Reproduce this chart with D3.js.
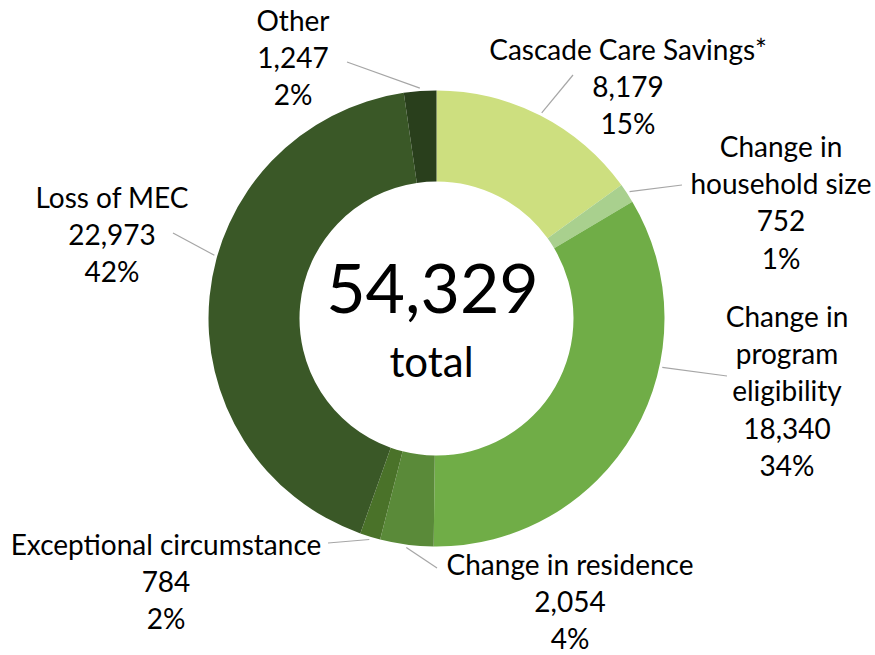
<!DOCTYPE html>
<html>
<head>
<meta charset="utf-8">
<script src="https://cdn.jsdelivr.net/npm/d3@7"></script>
<style>
  html, body { margin: 0; padding: 0; background: #fff; }
  svg { display: block; }
  text { font-family: Lato, "Open Sans", sans-serif; fill: #000; }
</style>
</head>
<body>
<svg id="chart" width="875" height="655"></svg>
<script>
// Renewal outcome categories, clockwise from 12 o'clock
const categories = [
  "Cascade Care Savings*",
  "Change in household size",
  "Change in program eligibility",
  "Change in residence",
  "Exceptional circumstance",
  "Loss of MEC",
  "Other"
];
const counts = [8179, 752, 18340, 2054, 784, 22973, 1247];
const percentLabels = ["15%", "1%", "34%", "4%", "2%", "42%", "2%"];
const sliceColors = ["#CDDF7F", "#A9D08E", "#70AD47", "#5A8A39", "#4A7229", "#3A5827", "#293F1C"];
const totalCaption = "total";

// Label layout: wrapped name lines, centre x, first baseline, leader end point,
// and the angle (degrees, clockwise from top) where the leader meets the ring
const labelLayout = [
  { lines: ["Cascade Care Savings*"], x: 628, y: 60, lead: [573, 75], angle: null },
  { lines: ["Change in", "household size"], x: 781, y: 157, lead: [682, 185], angle: null },
  { lines: ["Change in", "program", "eligibility"], x: 787, y: 327, lead: [727, 376], angle: 102.2 },
  { lines: ["Change in residence"], x: 570, y: 575, lead: [437, 568], angle: null },
  { lines: ["Exceptional circumstance"], x: 166, y: 555, lead: [328, 543], angle: null },
  { lines: ["Loss of MEC"], x: 112, y: 208, lead: [173, 233], angle: 285.9 },
  { lines: ["Other"], x: 293, y: 31, lead: [347, 62], angle: null }
];

const width = 875, height = 655;
const cx = 436.5, cy = 318.5;
const outerR = 228, innerR = 137, leaderR = 231;
const lineStep = 37.2;

const svg = d3.select("#chart");
const fmt = d3.format(",");

const pie = d3.pie().sort(null).value(d => d)(counts);
const arc = d3.arc().innerRadius(innerR).outerRadius(outerR);

const g = svg.append("g").attr("transform", `translate(${cx},${cy})`);

g.selectAll("path.slice")
  .data(pie)
  .join("path")
  .attr("class", "slice")
  .attr("d", arc)
  .attr("fill", (d, i) => sliceColors[i]);

// Leader lines from the ring to each label
const ringPoint = (a, r) => [r * Math.sin(a), -r * Math.cos(a)];
svg.append("g").selectAll("line.leader")
  .data(pie)
  .join("line")
  .attr("class", "leader")
  .each(function (d, i) {
    const L = labelLayout[i];
    const a = L.angle == null ? (d.startAngle + d.endAngle) / 2 : L.angle * Math.PI / 180;
    const p = ringPoint(a, leaderR);
    d3.select(this)
      .attr("x1", cx + p[0]).attr("y1", cy + p[1])
      .attr("x2", L.lead[0]).attr("y2", L.lead[1]);
  })
  .attr("stroke", "#A6A6A6")
  .attr("stroke-width", 1.2);

// Category labels: name lines, count, percent
const labels = svg.append("g").selectAll("text.label")
  .data(pie)
  .join("text")
  .attr("class", "label")
  .attr("text-anchor", "middle")
  .style("font-size", "28px");

labels.each(function (d, i) {
  const L = labelLayout[i];
  const rows = [...L.lines, fmt(counts[i]), percentLabels[i]];
  d3.select(this).selectAll("tspan")
    .data(rows)
    .join("tspan")
    .attr("x", L.x)
    .attr("y", (r, k) => L.y + k * lineStep)
    .text(r => r);
});

// Centre total
const total = d3.sum(counts);
svg.append("text")
  .attr("x", cx - 4).attr("y", cy - 6)
  .attr("text-anchor", "middle")
  .style("font-size", "68px")
  .text(fmt(total));
svg.append("text")
  .attr("x", cx - 5).attr("y", cy + 58)
  .attr("text-anchor", "middle")
  .style("font-size", "42px")
  .text(totalCaption);
</script>
</body>
</html>
